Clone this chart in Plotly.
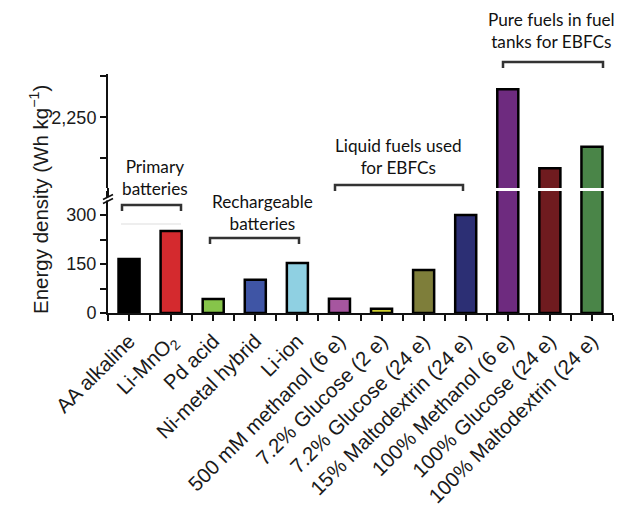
import plotly.graph_objects as go

categories = ["AA alkaline", "Li-MnO<sub>2</sub>", "Pd acid", "Ni-metal hybrid", "Li-ion",
              "500 mM methanol (6 e)", "7.2% Glucose (2 e)", "7.2% Glucose (24 e)",
              "15% Maltodextrin (24 e)", "100% Methanol (6 e)", "100% Glucose (24 e)",
              "100% Maltodextrin (24 e)"]
energy_density = [165, 251, 43, 102, 153, 44, 13, 132, 300, 2421, 1939, 2071]
colors = ["#000000", "#d42a2e", "#86c44a", "#3f55a5", "#8fd0e2", "#a6569f", "#cfd032",
          "#7e7e3a", "#2c2f74", "#6e2b7f", "#6f1b1f", "#4a8548"]
lower_ticks = [0, 150, 300]
lower_ticktext = ["0", "150", "300"]
upper_ticks = [2250]
upper_ticktext = ["2,250"]

groups = [
    ("Primary<br>batteries", 155, 177, 122, 181, 205),
    ("Rechargeable<br>batteries", 262, 212, 210, 299, 238),
    ("Liquid fuels used<br>for EBFCs", 398, 156, 335, 463, 185),
    ("Pure fuels in fuel<br>tanks for EBFCs", 551, 31, 503, 603, 62),
]

W, H = 619, 515
L, R, T, B = 108, 6, 74, 202
PW, PH = W - L - R, H - T - B


def px(x):
    return (x - L) / PW


def py(y):
    return (H - B - y) / PH


xs = list(range(len(categories)))

fig = go.Figure()
for ax in ["y", "y2"]:
    fig.add_trace(go.Bar(x=xs, y=energy_density, yaxis=ax, width=0.5,
                         marker=dict(color=colors, line=dict(color="#000000", width=2.5)),
                         hoverinfo="skip", showlegend=False))

tickfont = dict(family="Liberation Sans, Arial, sans-serif", size=18, color="#1a1a1a")
xtickfont = dict(family="Liberation Sans, Arial, sans-serif", size=20.5, color="#1a1a1a")
tk = dict(ticks="outside", ticklen=6, tickwidth=2, tickcolor="#111")
minor_common = dict(ticks="outside", ticklen=6, tickwidth=2, tickcolor="#111", showgrid=False)

fig.update_layout(
    width=W, height=H,
    margin=dict(l=L, r=R, t=T, b=B, autoexpand=False),
    paper_bgcolor="white", plot_bgcolor="white",
    hovermode=False,
    xaxis=dict(range=[-0.5, 11.5], tickvals=xs, ticktext=categories, tickangle=-45,
               showline=True, linewidth=2, linecolor="#111", showgrid=False,
               zeroline=False, tickfont=xtickfont, anchor="y", automargin=False,
               minor=dict(tick0=0.5, dtick=1, **minor_common), **tk),
    yaxis=dict(domain=[0, py(191)], range=[0, 373.5], tickvals=lower_ticks,
               ticktext=lower_ticktext, showline=True, linewidth=2, linecolor="#111",
               showgrid=False, zeroline=False, tickfont=tickfont, anchor="x",
               automargin=False, minor=dict(tick0=0, dtick=75, **minor_common), **tk),
    yaxis2=dict(domain=[py(188), 1], range=[1819, 2514], tickvals=upper_ticks,
                ticktext=upper_ticktext, showline=True, linewidth=2, linecolor="#111",
                showgrid=False, zeroline=False, tickfont=tickfont, anchor="x",
                automargin=False, minor=dict(tick0=2000, dtick=250, **minor_common), **tk),
)

shapes = []
annotations = []
for text, cx, cy, x0, x1, by in groups:
    annotations.append(dict(text=text, x=px(cx), y=py(cy), xref="paper", yref="paper",
                            showarrow=False, align="center", xanchor="center",
                            yanchor="middle",
                            font=dict(family="Lato, Open Sans, sans-serif", size=17.2,
                                      color="#111")))
    path = (f"M {px(x0)},{py(by + 6)} L {px(x0)},{py(by)} "
            f"L {px(x1)},{py(by)} L {px(x1)},{py(by + 6)}")
    shapes.append(dict(type="path", path=path, xref="paper", yref="paper",
                       line=dict(color="#333", width=2.5)))

# faint gray line under primary bracket
shapes.append(dict(type="line", xref="paper", yref="paper", x0=px(121), x1=px(181),
                   y0=py(224), y1=py(224), line=dict(color="#dddddd", width=1.2)))

# axis break glyph
shapes.append(dict(type="line", xref="paper", yref="paper", x0=px(108), x1=px(108),
                   y0=py(188), y1=py(197), line=dict(color="#111", width=2)))
shapes.append(dict(type="rect", xref="paper", yref="paper", x0=px(105), x1=px(111),
                   y0=py(197.5), y1=py(200.5), fillcolor="white",
                   line=dict(width=0), layer="above"))
for yy in (197, 201):
    shapes.append(dict(type="line", xref="paper", yref="paper", x0=px(103), x1=px(113),
                       y0=py(yy + 2.5), y1=py(yy - 2.5), line=dict(color="#111", width=1.8)))

annotations.append(dict(text="Energy density (Wh kg<sup>−1</sup>)", x=px(39), y=py(200),
                        xref="paper", yref="paper", showarrow=False, textangle=-90,
                        xanchor="center", yanchor="middle",
                        font=dict(family="Liberation Sans, Arial, sans-serif", size=20.5,
                                  color="#1a1a1a")))

fig.update_layout(shapes=shapes, annotations=annotations)
fig.write_html("out.html", config={"displayModeBar": False},
               post_script="document.body.style.margin='0';document.body.style.padding='0';")
